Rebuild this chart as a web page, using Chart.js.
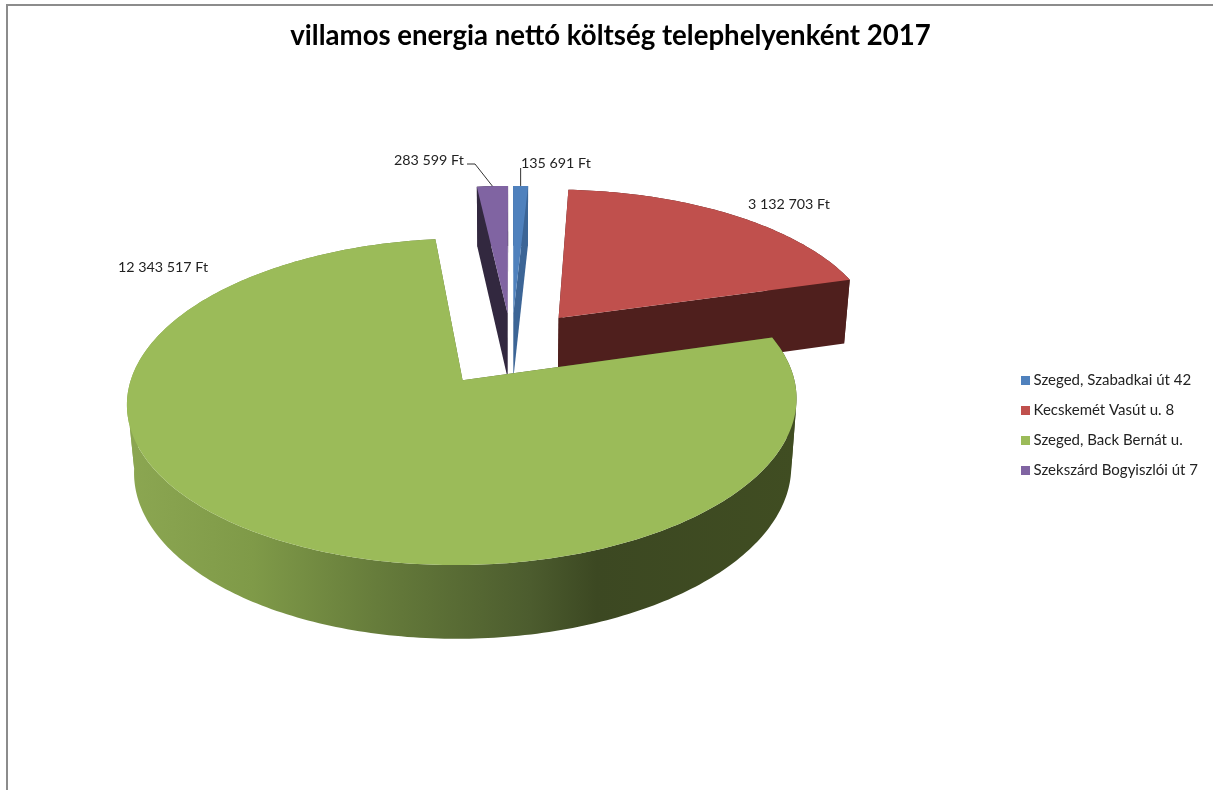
<!DOCTYPE html>
<html>
<head>
<meta charset="utf-8">
<script src="https://cdn.jsdelivr.net/npm/chart.js@4"></script>
<style>
body { margin: 0; background: #fff; }
#frame { position: absolute; left: 6px; top: 4px; right: 0; bottom: 0; border-top: 2px solid #8c8c8c; border-left: 2px solid #8c8c8c; }
#myChart { position: absolute; left: 0; top: 0; }
</style>
</head>
<body>
<div id="frame"></div>
<canvas id="myChart" width="1213" height="790"></canvas>
<script>
var chartTitle = 'villamos energia nettó költség telephelyenként 2017';
var categories = ['Szeged, Szabadkai út 42', 'Kecskemét Vasút u. 8', 'Szeged, Back Bernát u.', 'Szekszárd Bogyiszlói út 7'];
var costs = [135691, 3132703, 12343517, 283599];
var explodePct = [22, 24, 26.5, 22];
var topColors = ['#4f81bd', '#c0504d', '#9bbb59', '#8064a2'];
var wallColors = ['#3c6596', '#4f1f1d', null, '#32283f'];
var labelSpots = [[521, 163], [748, 204], [118, 267], [394, 160]];
var drawOrder = [3, 0, 1, 2];

// camera for the tilted pie
var cam = { x: 511.5, y: 345.9, a: 322.5, b: 151.6, k: 0.1278, m: 0.018, d: 67.5 };

function project(u, v, low) {
	var w = 1 - cam.k * v + (low ? cam.m : 0);
	return [cam.x + cam.a * u / w, cam.y + (cam.b * v + (low ? cam.d : 0)) / w];
}

function fmt(n) {
	return String(n).replace(/\B(?=(\d{3})+$)/g, ' ') + ' Ft';
}

function fillPath(ctx, pts, color) {
	ctx.beginPath();
	pts.forEach(function (p, i) {
		if (i == 0) ctx.moveTo(p[0], p[1]);
		else ctx.lineTo(p[0], p[1]);
	});
	ctx.closePath();
	ctx.fillStyle = color;
	ctx.fill();
}

// small square for the legend, the default box leaves too wide a gap before the text
function swatch(color) {
	var c = document.createElement('canvas');
	c.width = 9;
	c.height = 9;
	var g = c.getContext('2d');
	g.fillStyle = color;
	g.fillRect(0, 0, 9, 9);
	return c;
}

var pie3d = {
	id: 'pie3d',
	beforeDatasetsDraw: function (chart) {
		var ctx = chart.ctx;
		var arcs = chart.getDatasetMeta(0).data;
		var greenWall = ctx.createLinearGradient(133, 0, 795, 0);
		greenWall.addColorStop(0, '#8ba651');
		greenWall.addColorStop(0.18, '#7f9a48');
		greenWall.addColorStop(0.37, '#667c3b');
		greenWall.addColorStop(0.6, '#4c5c2e');
		greenWall.addColorStop(0.7, '#3c4822');
		greenWall.addColorStop(1, '#404d22');

		drawOrder.forEach(function (i) {
			var el = arcs[i];
			var mid = (el.startAngle + el.endAngle) / 2;
			var off = explodePct[i] / 100;
			var cu = off * Math.cos(mid), cv = off * Math.sin(mid);
			var steps = Math.max(4, Math.ceil((el.endAngle - el.startAngle) * 60));
			var top = [], low = [], front = [];
			for (var s = 0; s <= steps; s++) {
				var t = el.startAngle + (el.endAngle - el.startAngle) * s / steps;
				top.push(project(cu + Math.cos(t), cv + Math.sin(t), false));
				low.push(project(cu + Math.cos(t), cv + Math.sin(t), true));
				front.push(Math.sin(t) > cam.k);
			}
			var apexTop = project(cu, cv, false);
			var apexLow = project(cu, cv, true);
			var wall = wallColors[i] || greenWall;

			// outer wall in runs split at the silhouette, one polygon would cancel itself out
			var from = 0;
			for (var q = 1; q <= steps; q++) {
				if (q == steps || front[q] != front[from]) {
					fillPath(ctx, top.slice(from, q + 1).concat(low.slice(from, q + 1).reverse()), wall);
					from = q;
				}
			}
			fillPath(ctx, [apexTop, top[0], low[0], apexLow], wall);
			fillPath(ctx, [apexTop, top[steps], low[steps], apexLow], wall);
			fillPath(ctx, [apexTop].concat(top), topColors[i]);
		});

		// value labels and their leader lines
		ctx.font = '14.3px Lato';
		ctx.textAlign = 'left';
		ctx.textBaseline = 'middle';
		ctx.fillStyle = '#222';
		costs.forEach(function (c, i) {
			ctx.fillText(fmt(c), labelSpots[i][0], labelSpots[i][1]);
		});
		ctx.strokeStyle = '#333';
		ctx.lineWidth = 1;
		[0, 3].forEach(function (i) {
			var el = arcs[i];
			var mid = (el.startAngle + el.endAngle) / 2;
			var off = explodePct[i] / 100;
			var end = project(off * Math.cos(mid) + Math.cos(mid), off * Math.sin(mid) + Math.sin(mid), false);
			ctx.beginPath();
			if (i == 0) {
				ctx.moveTo(end[0], labelSpots[i][1] + 5);
			} else {
				ctx.moveTo(labelSpots[i][0] + 73, labelSpots[i][1] + 4);
				ctx.lineTo(labelSpots[i][0] + 81, labelSpots[i][1] + 4);
			}
			ctx.lineTo(end[0], end[1]);
			ctx.stroke();
		});
		return false;
	}
};

new Chart(document.getElementById('myChart').getContext('2d'), {
	type: 'pie',
	data: {
		labels: categories,
		datasets: [{
			data: costs,
			backgroundColor: topColors,
			borderWidth: 0,
			offset: explodePct
		}]
	},
	options: {
		responsive: false,
		animation: false,
		layout: { padding: { left: 13, right: 5, top: 12, bottom: -48 } },
		plugins: {
			title: {
				display: true,
				text: chartTitle,
				color: '#000',
				font: { family: 'Lato', size: 27.6, weight: 'bold' },
				padding: { top: 8, bottom: 10 }
			},
			legend: {
				position: 'right',
				labels: {
					usePointStyle: true,
					boxWidth: 0.5,
					boxHeight: 9,
					padding: 15,
					color: '#222',
					font: { family: 'Lato', size: 15 },
					generateLabels: function (chart) {
						var items = Chart.overrides.pie.plugins.legend.labels.generateLabels(chart);
						items.forEach(function (it, i) {
							it.pointStyle = swatch(topColors[i]);
						});
						return items;
					}
				}
			},
			tooltip: { enabled: false }
		}
	},
	plugins: [pie3d]
});
</script>
</body>
</html>
